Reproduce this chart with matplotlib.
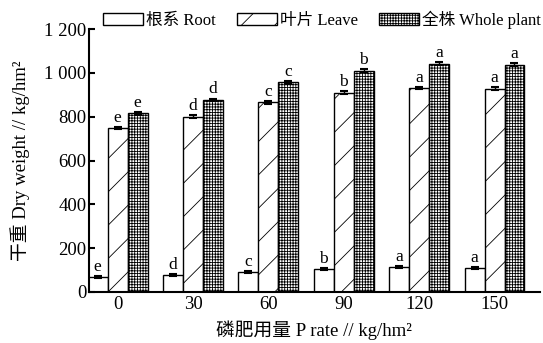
import matplotlib
matplotlib.use("Agg")
import matplotlib.pyplot as plt
import numpy as np

plt.rcParams['font.family'] = ['Liberation Serif', 'Noto Sans CJK SC']
plt.rcParams['hatch.linewidth'] = 0.6

p_rates = ['0', '30', '60', '90', '120', '150']
root = [67, 77, 92, 103, 112, 109]
leaf = [748, 800, 866, 910, 932, 928]
whole = [815, 877, 958, 1011, 1043, 1038]
root_err = [4, 4, 4, 4, 4, 4]
leaf_err = [6, 8, 7, 6, 5, 7]
whole_err = [5, 6, 7, 6, 5, 6]
root_sig = ['e', 'd', 'c', 'b', 'a', 'a']
leaf_sig = ['e', 'd', 'c', 'b', 'a', 'a']
whole_sig = ['e', 'd', 'c', 'b', 'a', 'a']
series_names = ['根系 Root', '叶片 Leave', '全株 Whole plant']

fig = plt.figure(figsize=(5.43, 3.43), dpi=100)
ax = fig.add_axes([0.164, 0.149, 0.83, 0.766])

x = np.arange(len(p_rates))
w = 0.265
hatches = ['', '/', '++++++']
series = [(root, root_err, root_sig), (leaf, leaf_err, leaf_sig), (whole, whole_err, whole_sig)]
offsets = [-w, 0, w]

for (vals, errs, sig), off, h, name in zip(series, offsets, hatches, series_names):
    ax.bar(x + off, vals, w, color='white', edgecolor='black', hatch=h,
           linewidth=1.0, label=name, yerr=errs,
           error_kw=dict(ecolor='black', capsize=3, elinewidth=1, capthick=1.5))
    for xi, v, e, s in zip(x + off, vals, errs, sig):
        ax.text(xi, v + e + 5, s, ha='center', va='bottom', fontsize=12.5)

ax.set_xlim(-0.38, 5.6)
ax.set_ylim(0, 1200)
ax.set_yticks([0, 200, 400, 600, 800, 1000, 1200])
ax.set_yticklabels(['0', '200', '400', '600', '800', '1 000', '1 200'])
ax.set_xticks(x)
ax.set_xticklabels(p_rates)
ax.tick_params(axis='y', direction='in', length=4, width=1.5, labelsize=13.5, pad=2)
ax.tick_params(axis='x', length=0, labelsize=13.5, pad=3)
ax.spines['top'].set_visible(False)
ax.spines['right'].set_visible(False)
ax.spines['left'].set_linewidth(1.5)
ax.spines['bottom'].set_linewidth(1.5)

ax.set_ylabel('干重 Dry weight // kg/hm²', fontsize=13.5, labelpad=10)
ax.set_xlabel('磷肥用量 P rate // kg/hm²', fontsize=13.5, labelpad=5)

ax.legend(loc='center left', ncol=3, frameon=False, fontsize=12, handlelength=2.4,
          handleheight=0.7, handletextpad=0.15, columnspacing=1.3, borderaxespad=0)
leg = ax.get_legend()
leg.set_bbox_to_anchor((0.178, 0.942), transform=fig.transFigure)

fig.savefig('out.png', dpi=100)
